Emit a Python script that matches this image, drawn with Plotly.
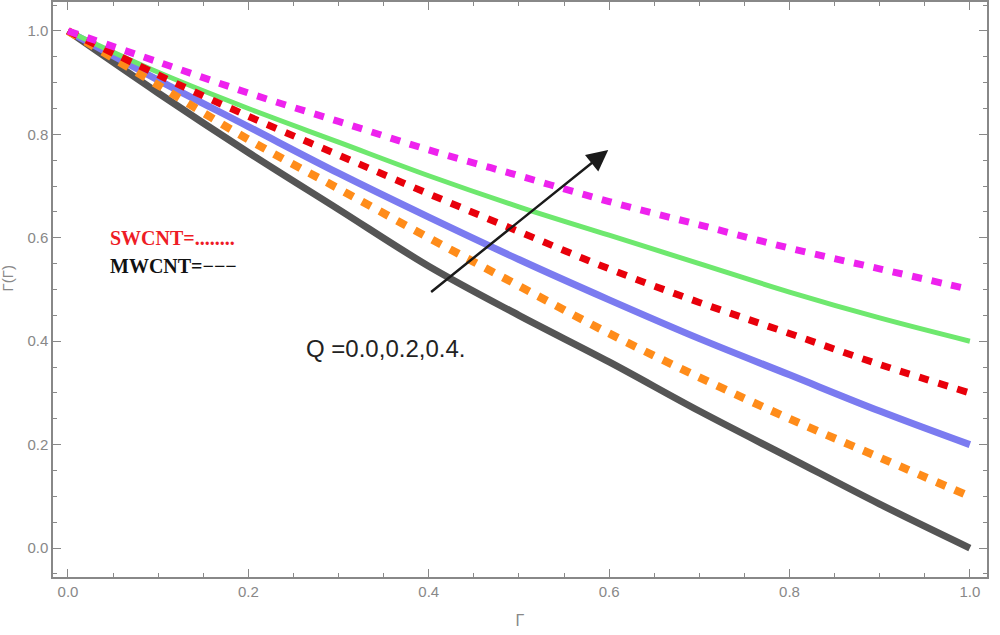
import plotly.graph_objects as go

# values
x_vals = [0.0, 0.1, 0.2, 0.3, 0.4, 0.5, 0.6, 0.7, 0.8, 0.9, 1.0]
magenta_swcnt = [1.0, 0.94, 0.88, 0.825, 0.77, 0.72, 0.67, 0.625, 0.58, 0.54, 0.5]
green_mwcnt = [1.0, 0.92, 0.85, 0.785, 0.72, 0.66, 0.605, 0.55, 0.495, 0.445, 0.4]
red_swcnt = [1.0, 0.915, 0.835, 0.76, 0.685, 0.612, 0.54, 0.475, 0.415, 0.355, 0.3]
blue_mwcnt = [1.0, 0.905, 0.815, 0.725, 0.64, 0.558, 0.48, 0.405, 0.335, 0.265, 0.2]
orange_swcnt = [1.0, 0.895, 0.79, 0.695, 0.6, 0.507, 0.415, 0.33, 0.25, 0.175, 0.1]
black_mwcnt = [1.0, 0.88, 0.765, 0.655, 0.545, 0.45, 0.36, 0.265, 0.175, 0.085, 0.0]

tick_vals = [0.0, 0.2, 0.4, 0.6, 0.8, 1.0]
tick_text = ["0.0", "0.2", "0.4", "0.6", "0.8", "1.0"]

fig = go.Figure()

# solid lines (MWCNT)
fig.add_trace(go.Scatter(x=x_vals, y=black_mwcnt, mode="lines", line_shape="spline",
                         line=dict(color="#555555", width=7)))
fig.add_trace(go.Scatter(x=x_vals, y=blue_mwcnt, mode="lines", line_shape="spline",
                         line=dict(color="#7b7bf0", width=7)))
fig.add_trace(go.Scatter(x=x_vals, y=green_mwcnt, mode="lines", line_shape="spline",
                         line=dict(color="#6ee86e", width=5)))
# dotted lines (SWCNT)
fig.add_trace(go.Scatter(x=x_vals, y=orange_swcnt, mode="lines", line_shape="spline",
                         line=dict(color="#ff8c1a", width=8, dash="10px,10px")))
fig.add_trace(go.Scatter(x=x_vals, y=red_swcnt, mode="lines", line_shape="spline",
                         line=dict(color="#e8000b", width=7, dash="10px,10px")))
fig.add_trace(go.Scatter(x=x_vals, y=magenta_swcnt, mode="lines", line_shape="spline",
                         line=dict(color="#ee22ee", width=7, dash="10px,10px")))

fig.add_annotation(x=0.599, y=0.770, ax=0.401, ay=0.493, xref="x", yref="y",
                   axref="x", ayref="y", text="", showarrow=True,
                   arrowhead=2, arrowsize=1.7, arrowwidth=2.5, arrowcolor="#1a1a1a")
fig.add_annotation(x=0.044, y=0.6, xref="x", yref="y", text="<b>SWCNT=........</b>",
                   showarrow=False, xanchor="left",
                   font=dict(family="Liberation Serif", size=20, color="#ee1c25"))
fig.add_annotation(x=0.044, y=0.545, xref="x", yref="y", text="<b>MWCNT=−−−</b>",
                   showarrow=False, xanchor="left",
                   font=dict(family="Liberation Serif", size=20, color="#111111"))
fig.add_annotation(x=0.262, y=0.385, xref="x", yref="y", text="Q =0.0,0.2,0.4.",
                   showarrow=False, xanchor="left",
                   font=dict(family="Liberation Sans", size=24, color="#222222"))
fig.add_annotation(x=-0.061, y=0.52, xref="paper", yref="paper", text="Γ(Γ)",
                   showarrow=False, textangle=-90,
                   font=dict(family="Liberation Sans", size=15, color="#888888"))

axis_style = dict(showline=True, linecolor="#888888", linewidth=1.5, mirror="ticks",
                  ticks="inside", ticklen=8, tickwidth=1.2, tickcolor="#888888",
                  showgrid=False, zeroline=False, automargin=False,
                  tickfont=dict(family="Liberation Sans", size=15, color="#888888"),
                  tickvals=tick_vals, ticktext=tick_text,
                  minor=dict(ticks="inside", ticklen=4, tickcolor="#888888", dtick=0.05))

fig.update_xaxes(range=[-0.0166, 1.019], title=dict(text="Γ", standoff=16,
                 font=dict(family="Liberation Sans", size=16, color="#888888")), **axis_style)
fig.update_yaxes(range=[-0.056, 1.056], **axis_style)

fig.update_layout(width=1000, height=635, showlegend=False,
                  plot_bgcolor="white", paper_bgcolor="white",
                  margin=dict(l=53, r=13, t=2, b=58))

# drop the page's default body margin so the figure sits at the window corner
fig.write_html("out.html", config={"displayModeBar": False},
               post_script="document.body.style.margin='0';")
